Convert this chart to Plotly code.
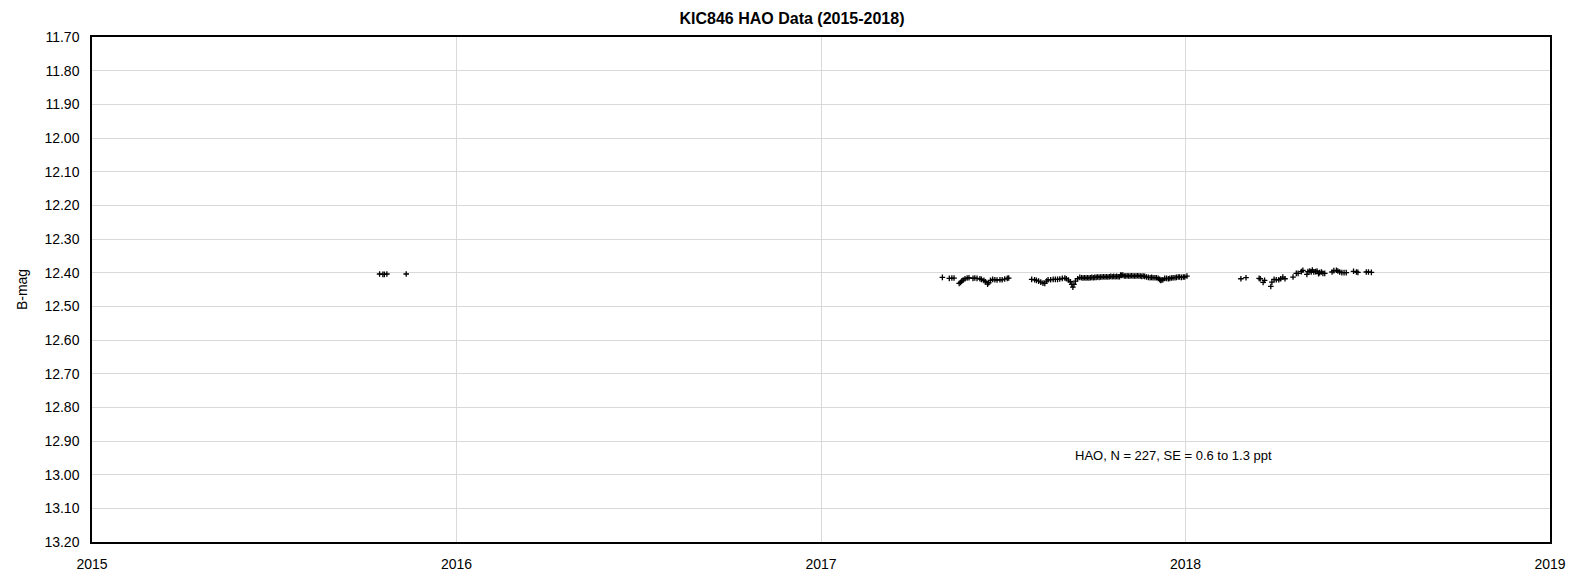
import plotly.graph_objects as go

# 2015 season
dates_2015 = [2015.789, 2015.798, 2015.802, 2015.809, 2015.862]
mags_2015 = [12.404, 12.405, 12.405, 12.404, 12.404]

# 2017 season, first segment
dates_2017a = [2017.333, 2017.352, 2017.359, 2017.365, 2017.379, 2017.383, 2017.386, 2017.390,
               2017.395, 2017.401, 2017.406, 2017.417, 2017.422, 2017.428, 2017.436, 2017.440,
               2017.447, 2017.451, 2017.457, 2017.460, 2017.465, 2017.471, 2017.477, 2017.483,
               2017.491, 2017.497, 2017.504, 2017.511, 2017.515]
mags_2017a = [12.414, 12.417, 12.416, 12.416, 12.432, 12.429, 12.425, 12.422,
              12.418, 12.416, 12.415, 12.417, 12.416, 12.417, 12.418, 12.420,
              12.423, 12.427, 12.434, 12.430, 12.423, 12.420, 12.421, 12.422,
              12.421, 12.421, 12.419, 12.417, 12.416]

# 2017 season, second segment
dates_2017b = [2017.578, 2017.586, 2017.591, 2017.597, 2017.603, 2017.609, 2017.614, 2017.619,
               2017.623, 2017.630, 2017.637, 2017.643, 2017.649, 2017.655, 2017.662, 2017.669,
               2017.673, 2017.679, 2017.684, 2017.688, 2017.691, 2017.694, 2017.698, 2017.704,
               2017.710,
               2017.715, 2017.719, 2017.723, 2017.727, 2017.731, 2017.735, 2017.739, 2017.743,
               2017.747, 2017.751, 2017.755, 2017.759, 2017.763, 2017.767,
               2017.771, 2017.775, 2017.779, 2017.783, 2017.787, 2017.791, 2017.795, 2017.799,
               2017.803, 2017.807, 2017.811, 2017.815, 2017.819,
               2017.822, 2017.825, 2017.828,
               2017.832, 2017.836, 2017.840, 2017.844, 2017.848, 2017.852, 2017.856, 2017.860,
               2017.864, 2017.868, 2017.872, 2017.876, 2017.880, 2017.884, 2017.888,
               2017.893, 2017.898, 2017.903, 2017.907, 2017.911, 2017.916, 2017.920, 2017.925,
               2017.929, 2017.932, 2017.935, 2017.938, 2017.943, 2017.948, 2017.953, 2017.957,
               2017.962, 2017.966, 2017.971, 2017.975, 2017.980, 2017.984, 2017.989, 2017.994,
               2017.998, 2018.004]
mags_2017b = [12.420, 12.421, 12.423, 12.425, 12.428, 12.431, 12.432, 12.425,
              12.421, 12.421, 12.420, 12.420, 12.420, 12.419, 12.417, 12.416,
              12.418, 12.422, 12.427, 12.435, 12.443, 12.435, 12.425, 12.418,
              12.414,
              12.415, 12.416, 12.415, 12.416, 12.415, 12.416, 12.415, 12.414,
              12.415, 12.414, 12.414, 12.413, 12.414, 12.413,
              12.413, 12.412, 12.413, 12.412, 12.413, 12.412, 12.411, 12.412,
              12.411, 12.412, 12.411, 12.412, 12.412,
              12.407, 12.408, 12.407,
              12.410, 12.410, 12.409, 12.410, 12.410, 12.409, 12.410, 12.410,
              12.410, 12.409, 12.410, 12.410, 12.411, 12.410, 12.411,
              12.413, 12.414, 12.415, 12.414, 12.415, 12.415, 12.415, 12.417,
              12.420, 12.423, 12.422, 12.421, 12.417, 12.417, 12.418, 12.417,
              12.416, 12.415, 12.415, 12.414, 12.413, 12.413, 12.414, 12.413,
              12.413, 12.410]

# 2018 season
dates_2018 = [2018.152, 2018.166, 2018.202, 2018.205, 2018.213, 2018.217, 2018.234, 2018.237,
              2018.243, 2018.249, 2018.256, 2018.261, 2018.267, 2018.273, 2018.295, 2018.304,
              2018.309, 2018.318, 2018.322, 2018.333, 2018.336, 2018.341, 2018.345, 2018.348,
              2018.352, 2018.357, 2018.361, 2018.365, 2018.368, 2018.373, 2018.377, 2018.382,
              2018.402, 2018.407, 2018.414, 2018.418, 2018.423, 2018.429, 2018.435, 2018.441,
              2018.461, 2018.469, 2018.473, 2018.496, 2018.502, 2018.510]
mags_2018 = [12.418, 12.415, 12.417, 12.418, 12.429, 12.423, 12.441, 12.428,
             12.420, 12.421, 12.421, 12.418, 12.413, 12.418, 12.413, 12.402,
             12.402, 12.397, 12.393, 12.405, 12.397, 12.395, 12.398, 12.392,
             12.398, 12.397, 12.395, 12.403, 12.400, 12.398, 12.402, 12.402,
             12.398, 12.394, 12.393, 12.395, 12.398, 12.400, 12.400, 12.400,
             12.396, 12.398, 12.399, 12.398, 12.398, 12.399]

dates = dates_2015 + dates_2017a + dates_2017b + dates_2018
mags = mags_2015 + mags_2017a + mags_2017b + mags_2018

title_text = "KIC846 HAO Data (2015-2018)"
y_title = "B-mag"
note_text = "HAO, N = 227, SE = 0.6 to 1.3 ppt"
x_ticks = [2015, 2016, 2017, 2018, 2019]
y_ticks = [round(11.7 + 0.1 * i, 2) for i in range(16)]

fig = go.Figure()
fig.add_trace(go.Scatter(
    x=dates, y=mags, mode="markers",
    marker=dict(symbol="cross-thin", size=4, color="black",
                line=dict(color="black", width=1.3)),
    showlegend=False, hoverinfo="x+y",
))

font_family = "Liberation Sans, Arial, sans-serif"
fig.update_layout(
    width=1568, height=573,
    margin=dict(l=84, r=26, t=29, b=39, autoexpand=False),
    paper_bgcolor="white", plot_bgcolor="white",
    title=dict(text="<b>" + title_text + "</b>", x=0.5, xanchor="center",
               y=0.982, yanchor="middle",
               font=dict(family=font_family, size=16, color="black")),
    font=dict(family=font_family, size=13, color="black"),
    xaxis=dict(range=[2015, 2019], tickvals=x_ticks, ticktext=[str(t) for t in x_ticks],
               showgrid=True, gridcolor="#d9d9d9", gridwidth=1,
               showline=True, linecolor="black", linewidth=1.5, mirror=True,
               zeroline=False, ticks="outside", ticklen=8, tickcolor="white",
               tickfont=dict(size=14), automargin=False),
    yaxis=dict(range=[13.2, 11.7], tickvals=y_ticks, ticktext=[f"{v:.2f}" for v in y_ticks],
               showgrid=True, gridcolor="#d9d9d9", gridwidth=1,
               showline=True, linecolor="black", linewidth=1.5, mirror=True,
               zeroline=False, ticks="outside", ticklen=8, tickcolor="white",
               tickfont=dict(size=14), automargin=False,
               title=dict(text=y_title, font=dict(size=14), standoff=14)),
    annotations=[dict(x=2017.967, y=12.944, xref="x", yref="y", text=note_text,
                      showarrow=False, font=dict(family=font_family, size=13, color="black"))],
)

fig.write_html("out.html")
